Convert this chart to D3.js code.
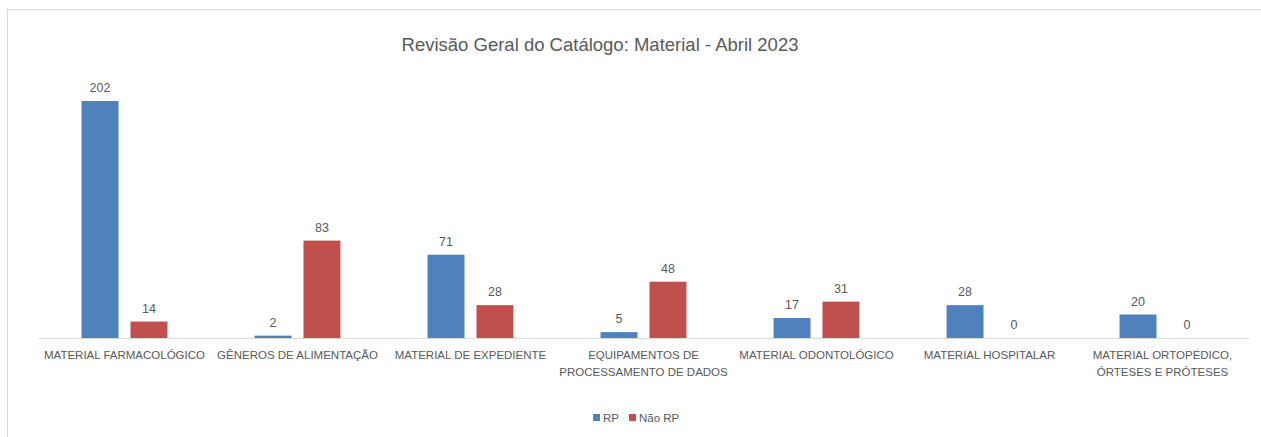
<!DOCTYPE html>
<html lang="pt">
  <head>
    <meta charset="UTF-8" />
    <title>Revisão Geral do Catálogo: Material - Abril 2023</title>
    <script src="https://d3js.org/d3.v7.min.js"></script>
    <style>
      body { margin: 0; background: #fff; }
      text { font-family: "Liberation Sans", Arial, sans-serif; fill: #595959; }
    </style>
  </head>
  <body>
    <svg width="1261" height="437"></svg>
    <script>
      // dados do gráfico
      const categories = [
        "MATERIAL FARMACOLÓGICO",
        "GÊNEROS DE ALIMENTAÇÃO",
        "MATERIAL DE EXPEDIENTE",
        "EQUIPAMENTOS DE PROCESSAMENTO DE DADOS",
        "MATERIAL ODONTOLÓGICO",
        "MATERIAL HOSPITALAR",
        "MATERIAL ORTOPÉDICO, ÓRTESES E PRÓTESES",
      ];
      // rótulos do eixo (quebrados em linhas)
      const tickLabels = [
        ["MATERIAL FARMACOLÓGICO"],
        ["GÊNEROS DE ALIMENTAÇÃO"],
        ["MATERIAL DE EXPEDIENTE"],
        ["EQUIPAMENTOS DE", "PROCESSAMENTO DE DADOS"],
        ["MATERIAL ODONTOLÓGICO"],
        ["MATERIAL HOSPITALAR"],
        ["MATERIAL ORTOPÉDICO,", "ÓRTESES E PRÓTESES"],
      ];
      const seriesNames = ["RP", "Não RP"];
      const rpValues = [202, 2, 71, 5, 17, 28, 20];
      const naoRpValues = [14, 83, 28, 48, 31, 0, 0];
      const colors = ["#4f81bd", "#c0504d"];

      const rows = categories.map((c, i) => ({
        cat: c,
        vals: [
          { key: seriesNames[0], v: rpValues[i] },
          { key: seriesNames[1], v: naoRpValues[i] },
        ],
      }));

      const svg = d3.select("svg");

      // moldura
      svg.append("rect")
        .attr("x", 7.5).attr("y", 9.5)
        .attr("width", 1270).attr("height", 440)
        .attr("fill", "none").attr("stroke", "#d9d9d9");

      svg.append("text")
        .attr("x", 600).attr("y", 51)
        .attr("text-anchor", "middle")
        .style("font-size", "18.5px")
        .text("Revisão Geral do Catálogo: Material - Abril 2023");

      const x0 = d3.scaleBand().domain(categories).range([38, 1249]);
      const x1 = d3.scaleBand().domain(seriesNames)
        .range([0, x0.bandwidth()])
        .paddingInner(0.245).paddingOuter(0.89);
      const y = d3.scaleLinear().domain([0, 202]).range([338, 101]);
      const color = d3.scaleOrdinal().domain(seriesNames).range(colors);

      const groups = svg.selectAll(".grp").data(rows).enter().append("g")
        .attr("class", "grp")
        .attr("transform", (d) => `translate(${x0(d.cat)},0)`);

      groups.selectAll("rect").data((d) => d.vals).enter().append("rect")
        .attr("x", (d) => x1(d.key))
        .attr("y", (d) => y(d.v))
        .attr("width", x1.bandwidth())
        .attr("height", (d) => y(0) - y(d.v))
        .attr("fill", (d) => color(d.key));

      groups.selectAll(".lbl").data((d) => d.vals).enter().append("text")
        .attr("class", "lbl")
        .attr("x", (d) => x1(d.key) + x1.bandwidth() / 2)
        .attr("y", (d) => y(d.v) - 9)
        .attr("text-anchor", "middle")
        .style("font-size", "12.5px")
        .text((d) => d.v);

      // eixo x
      const xAxis = svg.append("g")
        .attr("transform", `translate(0,${y(0)})`)
        .call(d3.axisBottom(x0).tickSize(0).tickFormat(""));
      xAxis.select(".domain").attr("stroke", "#d9d9d9");
      xAxis.selectAll(".tick text").remove();
      xAxis.selectAll(".tick").each(function (d, i) {
        const t = d3.select(this).append("text")
          .attr("text-anchor", "middle")
          .attr("fill", "#595959")
          .style("font-size", "11.5px");
        tickLabels[i].forEach((line, j) => {
          t.append("tspan").attr("x", 0).attr("y", 21 + j * 17).text(line);
        });
      });

      // legenda
      const legend = svg.append("g");
      const legX = [593, 629];
      seriesNames.forEach((s, i) => {
        legend.append("rect")
          .attr("x", legX[i]).attr("y", 414)
          .attr("width", 7).attr("height", 7)
          .attr("fill", color(s));
        legend.append("text")
          .attr("x", legX[i] + 10).attr("y", 422)
          .style("font-size", "11.5px")
          .text(s);
      });
    </script>
  </body>
</html>
